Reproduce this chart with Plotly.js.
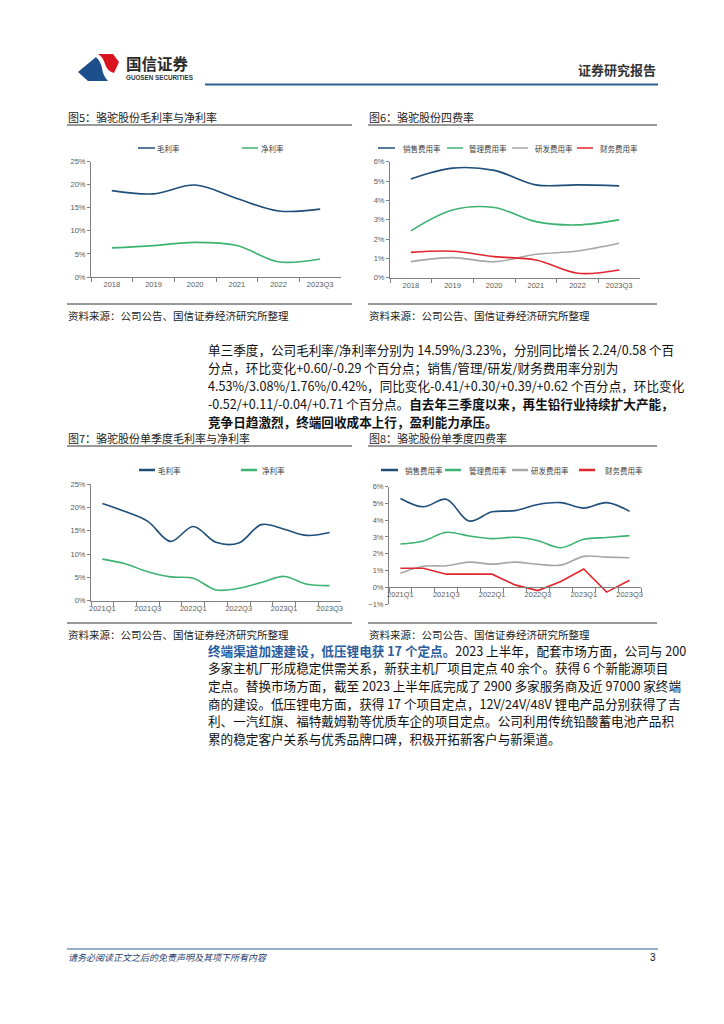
<!DOCTYPE html>
<html><head><meta charset="utf-8">
<script src="https://cdn.plot.ly/plotly-3.0.1.min.js"></script>
<style>html,body{margin:0;padding:0;background:#fff}#page{width:724px;height:1024px}</style>
</head><body><div id="page"></div>
<script>
// ---------- data ----------
const yearCats = ['2018','2019','2020','2021','2022','2023Q3'];
const grossYear = [18.7, 18.0, 19.9, 17.0, 14.3, 14.7];
const netYear   = [6.3, 6.8, 7.5, 6.8, 3.3, 3.9];
const sellYear  = [5.11, 5.67, 5.55, 4.80, 4.80, 4.75];
const adminYear = [2.42, 3.50, 3.63, 2.90, 2.73, 2.99];
const rdYear    = [0.83, 1.04, 0.83, 1.21, 1.38, 1.78];
const finYear   = [1.31, 1.37, 1.09, 0.92, 0.23, 0.40];

const quarterCats = ['2021Q1','2021Q2','2021Q3','2021Q4','2022Q1','2022Q2','2022Q3','2022Q4','2023Q1','2023Q2','2023Q3'];
const grossQ = [20.8, 19.1, 17.0, 12.7, 15.9, 12.5, 12.35, 16.3, 15.3, 13.99, 14.59];
const netQ   = [8.9, 7.9, 6.2, 5.1, 4.8, 2.3, 2.65, 3.9, 5.2, 3.52, 3.23];
const sellQ  = [5.30, 4.80, 5.25, 3.95, 4.50, 4.57, 4.94, 5.05, 4.72, 5.05, 4.53];
const adminQ = [2.58, 2.76, 3.28, 3.06, 2.90, 2.98, 2.78, 2.36, 2.86, 2.97, 3.08];
const rdQ    = [0.83, 1.25, 1.28, 1.50, 1.38, 1.50, 1.37, 1.32, 1.84, 1.80, 1.76];
const finQ   = [1.13, 1.13, 0.78, 0.78, 0.78, 0.14, -0.20, 0.34, 1.09, -0.29, 0.42];

const marginNames  = ['毛利率','净利率'];
const expenseNames = ['销售费用率','管理费用率','研发费用率','财务费用率'];

const figTitles = ['图5：骆驼股份毛利率与净利率','图6：骆驼股份四费率','图7：骆驼股份单季度毛利率与净利率','图8：骆驼股份单季度四费率'];
const sourceText = '资料来源：公司公告、国信证券经济研究所整理';

const para1 = [
  '单三季度，公司毛利率/净利率分别为 14.59%/3.23%，分别同比增长 2.24/0.58 个百',
  '分点，环比变化+0.60/-0.29 个百分点；销售/管理/研发/财务费用率分别为',
  '4.53%/3.08%/1.76%/0.42%，同比变化-0.41/+0.30/+0.39/+0.62 个百分点，环比变化',
  '-0.52/+0.11/-0.04/+0.71 个百分点。<b>自去年三季度以来，再生铅行业持续扩大产能，</b>',
  '<b>竞争日趋激烈，终端回收成本上行，盈利能力承压。</b>'
];
const para2 = [
  '<b><span style="color:#2b5d9c">终端渠道加速建设，低压锂电获 17 个定点。</span></b>2023 上半年，配套市场方面，公司与 200',
  '多家主机厂形成稳定供需关系，新获主机厂项目定点 40 余个。获得 6 个新能源项目',
  '定点。替换市场方面，截至 2023 上半年底完成了 2900 多家服务商及近 97000 家终端',
  '商的建设。低压锂电方面，获得 17 个项目定点，12V/24V/48V 锂电产品分别获得了吉',
  '利、一汽红旗、福特戴姆勒等优质车企的项目定点。公司利用传统铅酸蓄电池产品积',
  '累的稳定客户关系与优秀品牌口碑，积极开拓新客户与新渠道。'
];

// ---------- helpers ----------
const W = 724, H = 1024;
const px = x => x / W, py = y => 1 - y / H;
const CJK = '"Noto Sans CJK SC", "Noto Sans", sans-serif';
const NUM = '"Liberation Sans", Arial, sans-serif';
const C_BLUE = '#1f4e79', C_GREEN = '#3cb371', C_GRAY = '#a6a6a6', C_RED = '#e3262e';
const AX = '#808080';

function seg(x0, y0, x1, y1, color, w) {
  return {type:'line', xref:'paper', yref:'paper', x0:px(x0), y0:py(y0), x1:px(x1), y1:py(y1), line:{color:color, width:w}};
}
function txt(x, y, text, o) {
  o = o || {};
  return {xref:'paper', yref:'paper', x:px(x), y:py(y), text:text, showarrow:false,
    xanchor:o.xanchor || 'left', yanchor:'middle', align:'left', borderpad:0,
    font:{family:o.family || CJK, size:o.size || 12, color:o.color || '#222'}};
}
function pathPx(cmds) {
  return cmds.map(c => {
    const out = [c[0]];
    for (let i = 1; i < c.length; i += 2) out.push(px(c[i]).toFixed(5) + ',' + py(c[i+1]).toFixed(5));
    return out.join(' ');
  }).join(' ') + ' Z';
}
function xAx(x0, x1, cats, everyOther, anchor, extra) {
  return Object.assign({
    domain:[px(x0), px(x1)], type:'category', categoryorder:'array', categoryarray:cats,
    range:[-0.5, cats.length - 0.5], tickmode:'array', tickvals:cats,
    ticktext:cats.map((c, i) => (everyOther && i % 2) ? '' : c), tickangle:0,
    tickson:'boundaries', ticks:'outside', ticklen:4, tickcolor:AX, tickwidth:1,
    showline:true, linecolor:AX, linewidth:1, showgrid:false, zeroline:false,
    tickfont:{family:NUM, size:7.5, color:'#595959'}, anchor:anchor, fixedrange:true
  }, extra || {});
}
function yAx(yBottom, yTop, range, dtick, anchor) {
  return {
    domain:[py(yBottom), py(yTop)], range:range, dtick:dtick, tick0:0, ticksuffix:'%',
    ticks:'outside', ticklen:3, tickcolor:AX, showline:true, linecolor:AX, linewidth:1,
    showgrid:false, zeroline:false, tickfont:{family:NUM, size:7.5, color:'#595959'},
    anchor:anchor, fixedrange:true
  };
}
function tr(x, y, color, xa, ya, shape, width) {
  return {type:'scatter', mode:'lines', x:x, y:y, xaxis:xa, yaxis:ya, showlegend:false, hoverinfo:'skip',
    line:{color:color, width:width || 1.6, shape:shape || 'spline', smoothing:1}};
}

// ---------- traces ----------
const data = [
  tr(yearCats, grossYear, C_BLUE, 'x', 'y'),
  tr(yearCats, netYear, C_GREEN, 'x', 'y'),
  tr(yearCats, sellYear, C_BLUE, 'x2', 'y2'),
  tr(yearCats, adminYear, C_GREEN, 'x2', 'y2'),
  tr(yearCats, rdYear, C_GRAY, 'x2', 'y2'),
  tr(yearCats, finYear, C_RED, 'x2', 'y2'),
  tr(quarterCats, grossQ, C_BLUE, 'x3', 'y3'),
  tr(quarterCats, netQ, C_GREEN, 'x3', 'y3'),
  tr(quarterCats, sellQ, C_BLUE, 'x4', 'y4'),
  tr(quarterCats, adminQ, C_GREEN, 'x4', 'y4'),
  tr(quarterCats, rdQ, C_GRAY, 'x4', 'y4'),
  tr(quarterCats, finQ, C_RED, 'x4', 'y4', 'linear')
];

// ---------- decorations ----------
const shapes = [];
const ann = [];

// header logo
shapes.push({type:'path', xref:'paper', yref:'paper', fillcolor:'#1d4f8c', line:{width:0},
  path:pathPx([['M',78,72],['L',96,57],['Q',101,62,102,68],['Q',103,76,108,81],['L',88,81]])});
shapes.push({type:'path', xref:'paper', yref:'paper', fillcolor:'#d8121f', line:{width:0},
  path:pathPx([['M',98,54],['L',113,54],['L',119,62],['L',114,73],['Q',107,71,105,64],['Q',103,57,98,54]])});
ann.push(txt(125, 63, '<b>国信证券</b>', {size:15.5, color:'#2a2a2a'}));
ann.push(txt(125, 77, '<b>GUOSEN SECURITIES</b>', {size:6.3, family:NUM, color:'#333'}));
ann.push(txt(657, 69, '<b>证券研究报告</b>', {size:13, xanchor:'right', color:'#333'}));
shapes.push(seg(205, 84.5, 658, 84.5, '#2f5f8f', 2));

// figure titles, rules and sources
const panels = [
  {x0:67, x1:352, titleY:117, ruleY:125, srcRuleY:304, srcY:315},
  {x0:368, x1:657, titleY:117, ruleY:125, srcRuleY:304, srcY:315},
  {x0:67, x1:352, titleY:438, ruleY:446, srcRuleY:623, srcY:634},
  {x0:368, x1:657, titleY:438, ruleY:446, srcRuleY:623, srcY:634}
];
panels.forEach((p, i) => {
  ann.push(txt(p.x0, p.titleY, figTitles[i], {size:11, color:'#222'}));
  shapes.push(seg(p.x0, p.ruleY, p.x1, p.ruleY, '#333', 1));
  shapes.push(seg(p.x0, p.srcRuleY, p.x1, p.srcRuleY, '#333', 1));
  ann.push(txt(p.x0, p.srcY, sourceText, {size:10.5, color:'#222'}));
});

// legends
function legend(items, y, lw) {
  items.forEach(it => {
    shapes.push(seg(it.lx0, y, it.lx1, y, it.color, lw));
    ann.push(txt(it.tx, y, it.name, {size:7.5, color:'#404040'}));
  });
}
const mColors = [C_BLUE, C_GREEN];
const eColors = [C_BLUE, C_GREEN, C_GRAY, C_RED];
legend(marginNames.map((n, i) => ({name:n, color:mColors[i], lx0:[138,242][i], lx1:[155,258][i], tx:[156,260][i]})), 148, 1.5);
legend(expenseNames.map((n, i) => ({name:n, color:eColors[i], lx0:[378,447,512,577][i], lx1:[395,463,528,593][i], tx:[402,468,534,599][i]})), 148, 1.5);
legend(marginNames.map((n, i) => ({name:n, color:mColors[i], lx0:[139,241][i], lx1:[155,257][i], tx:[157,261][i]})), 470, 2.5);
legend(expenseNames.map((n, i) => ({name:n, color:eColors[i], lx0:[381,445,512,579][i], lx1:[398,461,528,595][i], tx:[404,468,530,604][i]})), 470, 2.5);

// body paragraphs
para1.forEach((line, i) => ann.push(txt(207, 349 + i * 18, line, {size:12.6, color:'#111'})));
para2.forEach((line, i) => ann.push(txt(207, 650 + i * 17.7, line, {size:12.6, color:'#111'})));

// footer
shapes.push(seg(67, 949, 658, 949, '#2f5f8f', 1));
ann.push({xref:'paper', yref:'paper', x:px(67), y:py(957), text:'<i>请务必阅读正文之后的免责声明及其项下所有内容</i>',
  showarrow:false, xanchor:'left', yanchor:'middle', borderpad:0, font:{family:CJK, size:9, color:'#1f3d6e'}});
ann.push(txt(657, 957, '3', {size:10, xanchor:'right', family:NUM, color:'#111'}));

// ---------- layout ----------
const zeroPos = py(587.3);
const layout = {
  width:W, height:H, margin:{l:0, r:0, t:0, b:0},
  paper_bgcolor:'#ffffff', plot_bgcolor:'rgba(0,0,0,0)', showlegend:false,
  font:{family:CJK},
  xaxis:  xAx(91, 341, yearCats, false, 'y'),
  yaxis:  yAx(277, 161.5, [0, 25], 5, 'x'),
  xaxis2: xAx(390, 640, yearCats, false, 'y2'),
  yaxis2: yAx(277.7, 161.7, [0, 6], 1, 'x2'),
  xaxis3: xAx(91, 341, quarterCats, true, 'y3'),
  yaxis3: yAx(600.7, 484, [0, 25], 5, 'x3'),
  xaxis4: xAx(389, 641, quarterCats, true, 'free', {position:zeroPos}),
  yaxis4: yAx(604, 486.7, [-1, 6], 1, 'x4'),
  shapes:shapes, annotations:ann
};

Plotly.newPlot('page', data, layout, {staticPlot:true, displayModeBar:false});
</script>
</body></html>
